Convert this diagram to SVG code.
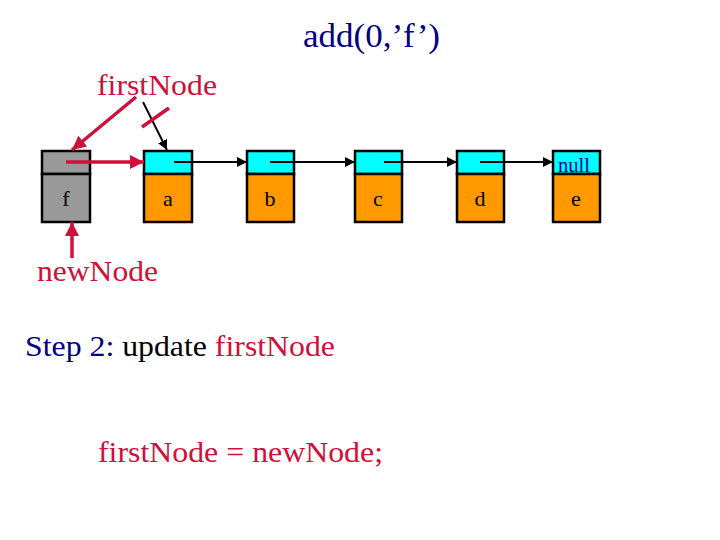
<svg xmlns="http://www.w3.org/2000/svg" width="720" height="540" viewBox="0 0 720 540">
<defs>
<style>
.t{font-family:"Liberation Serif","Times New Roman",serif}
.red{fill:#D0103A}
.blue{fill:#000080}
.box{stroke:#000;stroke-width:2.5}
.ptr{fill:#00FFFF}
.dat{fill:#FF9900}
.gray{fill:#999999}
.bl{stroke:#000;stroke-width:2;fill:none}
.rl{stroke:#D0103A;stroke-width:3.5;fill:none}
.lbl{font-size:22px;text-anchor:middle}
</style>
<marker id="ab" viewBox="0 0 10 10" refX="10" refY="5" markerWidth="5" markerHeight="5" orient="auto" markerUnits="strokeWidth"><path d="M0,0L10,5L0,10z" fill="#000"/></marker>
<marker id="ar" viewBox="0 0 10 10" refX="10" refY="5" markerWidth="4" markerHeight="4" orient="auto" markerUnits="strokeWidth"><path d="M0,0L10,5L0,10z" fill="#D0103A"/></marker>
</defs>
<rect width="720" height="540" fill="#fff"/>
<text class="t blue" x="303" y="47" font-size="33" textLength="137" lengthAdjust="spacingAndGlyphs">add(0,’f’)</text>
<text class="t red" x="97" y="95" font-size="30" textLength="120" lengthAdjust="spacingAndGlyphs">firstNode</text>

<g id="node-f"><rect class="box gray" x="42" y="151" width="48" height="23"/><rect class="box gray" x="42" y="174" width="48" height="48"/><text class="t lbl" x="66" y="206">f</text></g>
<g id="node-a"><rect class="box ptr" x="144" y="151" width="48" height="23"/><rect class="box dat" x="144" y="174" width="48" height="48"/><text class="t lbl" x="168" y="206">a</text></g>
<g id="node-b"><rect class="box ptr" x="247" y="151" width="47" height="23"/><rect class="box dat" x="247" y="174" width="47" height="48"/><text class="t lbl" x="270" y="206">b</text></g>
<g id="node-c"><rect class="box ptr" x="355" y="151" width="47" height="23"/><rect class="box dat" x="355" y="174" width="47" height="48"/><text class="t lbl" x="378" y="206">c</text></g>
<g id="node-d"><rect class="box ptr" x="457" y="151" width="47" height="23"/><rect class="box dat" x="457" y="174" width="47" height="48"/><text class="t lbl" x="480" y="206">d</text></g>
<g id="node-e"><rect class="box ptr" x="553" y="151" width="47" height="23"/><rect class="box dat" x="553" y="174" width="47" height="48"/><text class="t lbl" x="576" y="206">e</text><text class="t" x="558" y="172" font-size="20" fill="#000099" textLength="32" lengthAdjust="spacingAndGlyphs">null</text></g>

<g id="connectors">
<line class="bl" x1="174" y1="162" x2="247" y2="162" marker-end="url(#ab)"/>
<line class="bl" x1="270" y1="162" x2="355" y2="162" marker-end="url(#ab)"/>
<line class="bl" x1="384" y1="162" x2="457" y2="162" marker-end="url(#ab)"/>
<line class="bl" x1="480" y1="162" x2="553" y2="162" marker-end="url(#ab)"/>
<line class="bl" x1="143" y1="102" x2="167" y2="150" marker-end="url(#ab)"/>
<line class="rl" x1="142" y1="127" x2="169" y2="108" stroke-width="5.5"/>
<line class="rl" x1="136" y1="97" x2="72" y2="150" marker-end="url(#ar)"/>
<line class="rl" x1="66" y1="162" x2="144" y2="162" marker-end="url(#ar)"/>
<line class="rl" x1="72" y1="258" x2="72" y2="222" marker-end="url(#ar)"/>
</g>

<text class="t red" x="37" y="281" font-size="30" textLength="121" lengthAdjust="spacingAndGlyphs">newNode</text>
<text class="t" x="25" y="356" font-size="30" textLength="310" lengthAdjust="spacingAndGlyphs"><tspan class="blue">Step 2: </tspan><tspan fill="#000">update </tspan><tspan class="red">firstNode</tspan></text>
<text class="t red" x="98" y="462" font-size="30" textLength="285" lengthAdjust="spacingAndGlyphs">firstNode = newNode;</text>
</svg>
